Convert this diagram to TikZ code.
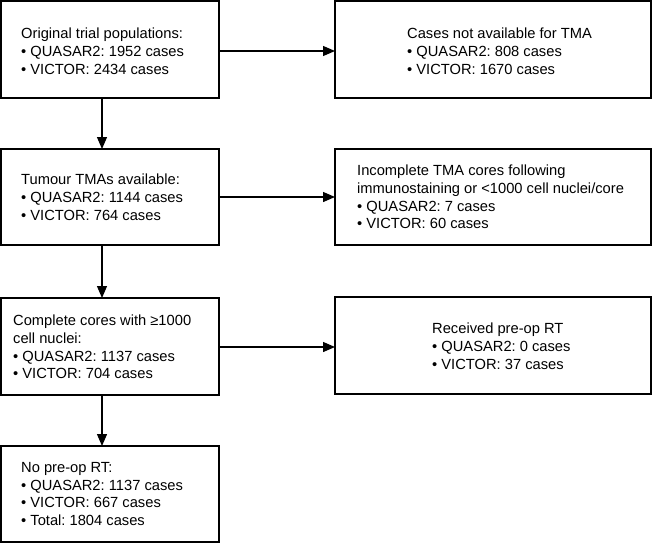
\documentclass[tikz,border=0pt]{standalone}
\usepackage{fontspec}
\setmainfont{Liberation Sans}
\usetikzlibrary{arrows.meta}
\frenchspacing
\begin{document}
\begin{tikzpicture}[x=1pt,y=-1pt,
  box/.style={draw, line width=1.4pt, inner sep=0pt, outer sep=0pt, anchor=north west},
  txt/.style={anchor=west, align=left, inner sep=0pt, font=\fontsize{14.7}{17.8}\selectfont\frenchspacing},
  arr/.style={line width=1.3pt, -{Triangle[length=12pt,width=10pt]}}]
\useasboundingbox (0,0) rectangle (652,543);
% left boxes
\node[box, minimum width=218pt, minimum height=97pt] (b1) at (1,1) {};
\node[box, minimum width=218pt, minimum height=96pt] (b2) at (1,149) {};
\node[box, minimum width=218pt, minimum height=97pt] (b3) at (1,298) {};
\node[box, minimum width=218pt, minimum height=96pt] (b4) at (1,446) {};
% right boxes
\node[box, minimum width=316pt, minimum height=97pt] (r1) at (335,1) {};
\node[box, minimum width=316pt, minimum height=96pt] (r2) at (335,149) {};
\node[box, minimum width=316pt, minimum height=97pt] (r3) at (335,297) {};
% texts
\node[txt] (t1) at (21,51) {Original trial populations:\\• QUASAR2: 1952 cases\\• VICTOR: 2434 cases};
\node[txt] (t2) at (21,197) {Tumour TMAs available:\\• QUASAR2: 1144 cases\\• VICTOR: 764 cases};
\node[txt] (t3) at (13,347) {Complete cores with ≥1000\\cell nuclei:\\• QUASAR2: 1137 cases\\• VICTOR: 704 cases};
\node[txt] (t4) at (21,494) {No pre-op RT:\\• QUASAR2: 1137 cases\\• VICTOR: 667 cases\\• Total: 1804 cases};
\node[txt] (u1) at (407,51) {Cases not available for TMA\\• QUASAR2: 808 cases\\• VICTOR: 1670 cases};
\node[txt] (u2) at (357,197) {Incomplete TMA cores following\\immunostaining or <1000 cell nuclei/core\\• QUASAR2: 7 cases\\• VICTOR: 60 cases};
\node[txt] (u3) at (432,346) {Received pre-op RT\\• QUASAR2: 0 cases\\• VICTOR: 37 cases};
% connectors
\coordinate (vx) at (102,0);
\coordinate (h1) at (0,51);
\coordinate (h2) at (0,197);
\coordinate (h3) at (0,347);
\draw[arr] (b1.south -| vx) -- (b2.north -| vx);
\draw[arr] (b2.south -| vx) -- (b3.north -| vx);
\draw[arr] (b3.south -| vx) -- (b4.north -| vx);
\draw[arr] (b1.east |- h1) -- (r1.west |- h1);
\draw[arr] (b2.east |- h2) -- (r2.west |- h2);
\draw[arr] (b3.east |- h3) -- (r3.west |- h3);
\end{tikzpicture}
\end{document}
